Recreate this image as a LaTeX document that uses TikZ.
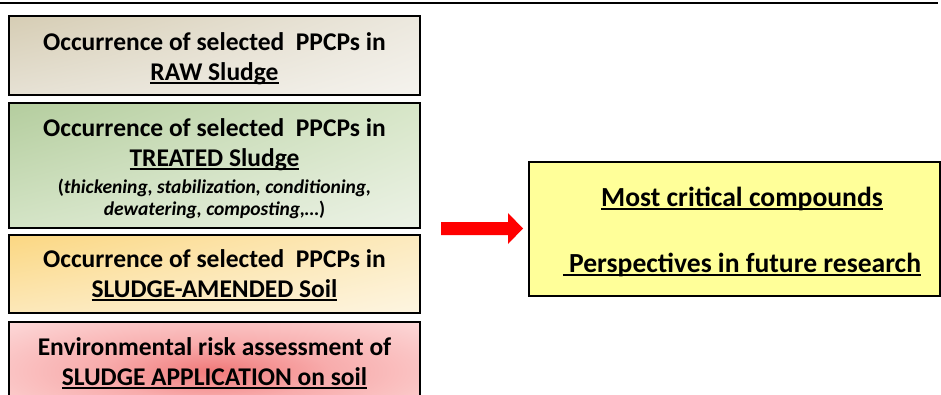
\documentclass[tikz,border=0pt]{standalone}
\usepackage{fontspec}
\setmainfont{Carlito}
\usetikzlibrary{shadings}
\definecolor{redc}{RGB}{240,122,122}
\definecolor{redm}{RGB}{248,172,172}
\definecolor{redo}{RGB}{253,222,222}
\pgfdeclareradialshading{redglow}{\pgfpoint{0bp}{0bp}}{color(0bp)=(redc); color(14bp)=(redm); color(38bp)=(redo); color(50bp)=(redo)}
\newsavebox{\myulbox}
\newcommand{\ulx}[1]{\sbox{\myulbox}{#1}\rlap{\rule[-0.13em]{\wd\myulbox}{0.065em}}\usebox{\myulbox}}
\begin{document}
\begin{tikzpicture}[x=1pt,y=-1pt,
  box/.style={draw=black, line width=1.8pt, inner sep=0pt, minimum width=411pt},
  ttl/.style={font=\fontsize{25.5}{30}\selectfont\bfseries, align=center, inner sep=0pt},
  big/.style={font=\fontsize{27.6}{32}\selectfont\bfseries, inner sep=0pt},
  sml/.style={font=\fontsize{19.5}{22.5}\selectfont\bfseries, align=center, inner sep=0pt}]
\useasboundingbox (0,0) rectangle (941,394);
\draw[line width=2.2pt] (0,3) -- (938,3);
% box 1
\shade[upper left={rgb,255:red,214;green,205;blue,180}, upper right={rgb,255:red,236;green,232;blue,222},
  lower left={rgb,255:red,230;green,225;blue,212}, lower right={rgb,255:red,245;green,243;blue,238}]
  (9,16) rectangle (420,95);
\node[box, minimum height=79pt] (b1) at (214.5,55.5) {};
\node[ttl] (t1) at (214.5,59) {Occurrence of selected~ PPCPs in\\\ulx{RAW Sludge}};
% box 2
\shade[upper left={rgb,255:red,180;green,205;blue,158}, upper right={rgb,255:red,215;green,230;blue,200},
  lower left={rgb,255:red,212;green,228;blue,198}, lower right={rgb,255:red,236;green,242;blue,230}]
  (9,103) rectangle (420,228);
\node[box, minimum height=125pt] (b2) at (214.5,165.5) {};
\node[ttl] (t2) at (214.5,145) {Occurrence of selected~ PPCPs in\\\ulx{TREATED Sludge}};
\node[sml] (t2b) at (214.5,199) {(\textit{thickening, stabilization, conditioning,}\\\textit{dewatering, composting,…})};
% box 3
\shade[upper left={rgb,255:red,251;green,215;blue,130}, upper right={rgb,255:red,252;green,234;blue,190},
  lower left={rgb,255:red,252;green,232;blue,185}, lower right={rgb,255:red,253;green,245;blue,225}]
  (9,235) rectangle (420,313);
\node[box, minimum height=78pt] (b3) at (214.5,274) {};
\node[ttl] (t3) at (214.5,275) {Occurrence of selected~ PPCPs in\\\ulx{SLUDGE-AMENDED Soil}};
% box 4
\shade[shading=redglow] (9,322) rectangle (420,420);
\node[box, minimum height=98pt] (b4) at (214.5,371) {};
\node[ttl] (t4) at (214.5,363) {Environmental risk assessment of\\\ulx{SLUDGE APPLICATION on soil}};
% result box
\node[box, minimum height=134pt, fill={rgb,255:red,255;green,255;blue,153}] (res) at (734.5,229) {};
\node[big] (r1) at (742,199) {\ulx{Most critical compounds}};
\node[big] (r2) at (742,265) {\ulx{\ Perspectives in future research}};
% arrow
\fill[red] (441,222) -- (508,222) -- (508,213) -- (523,228.5) -- (508,244) -- (508,235) -- (441,235) -- cycle;
\end{tikzpicture}
\end{document}
